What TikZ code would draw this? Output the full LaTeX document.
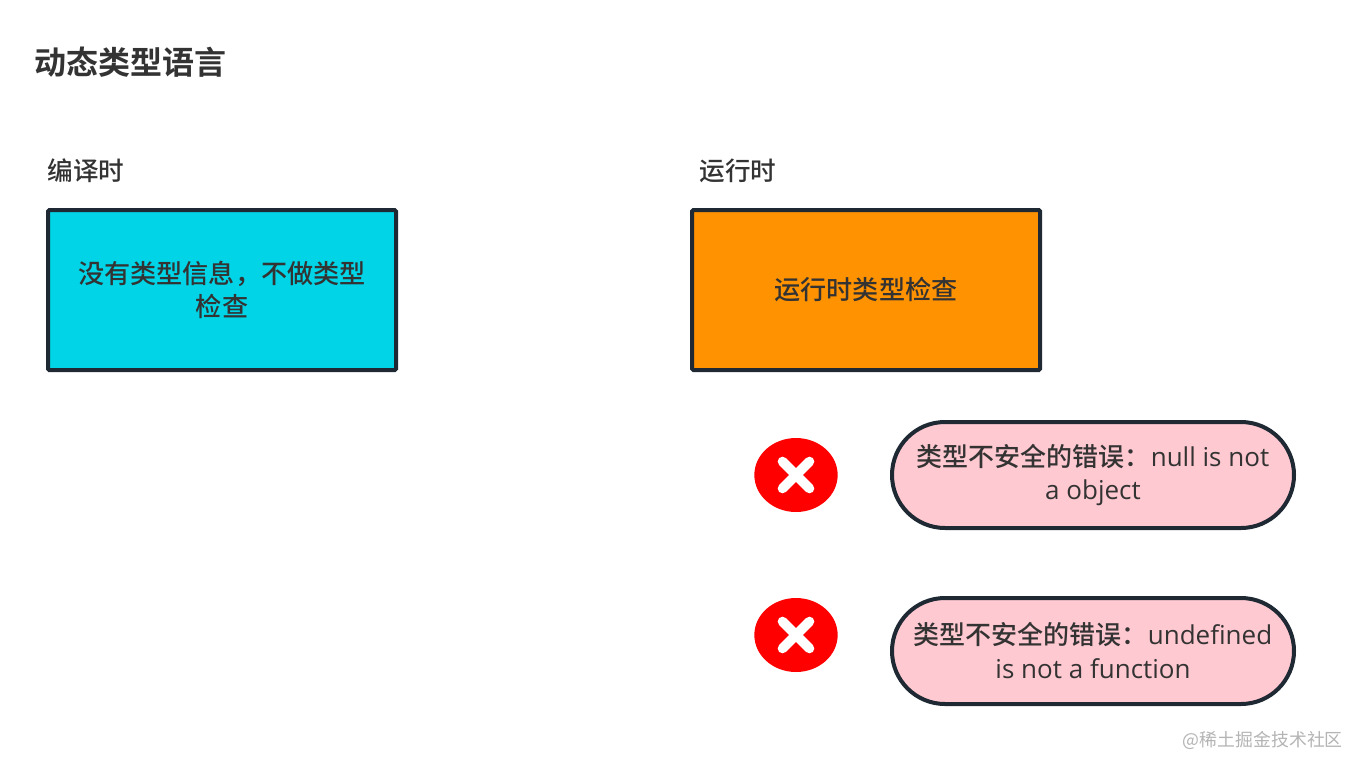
\documentclass[tikz,border=0pt]{standalone}
\usepackage{fontspec}
\setmainfont{Noto Sans CJK SC}
\newfontfamily\cjkm{Noto Sans CJK SC Medium}
\newfontfamily\cjkb{Noto Sans CJK SC Bold}
\newfontfamily\latm{Open Sans}
\definecolor{edgec}{HTML}{1F2933}
\definecolor{textc}{HTML}{333333}
\definecolor{cyanb}{HTML}{00D4E6}
\definecolor{orangeb}{HTML}{FF9200}
\definecolor{pinkb}{HTML}{FFC9D1}
\definecolor{wm}{HTML}{B4B4B4}
\usetikzlibrary{shapes.misc,shapes.geometric}
\tikzset{
  x=0.75pt,y=-0.75pt,
  box/.style={draw=edgec,fill=#1,line width=3pt,rounded corners=1pt,inner sep=0pt,outer sep=0pt,text=textc,align=center,font=\cjkm\fontsize{19.6}{25}\selectfont,minimum width=261pt,minimum height=120pt},
  pill/.style={draw=edgec,fill=pinkb,line width=3pt,rounded rectangle,inner sep=0pt,outer sep=0pt,text=textc,align=center,font=\cjkm\fontsize{19.5}{25.2}\selectfont,minimum width=301.5pt,minimum height=79.5pt},
  lbl/.style={anchor=west,inner sep=0pt,text=textc,font=\cjkm\fontsize{19.2}{24}\selectfont},
  crossc/.style={draw=white,line width=7.2pt,line cap=round},
  redc/.style={fill=red,draw=none,ellipse,minimum width=62.5pt,minimum height=55.5pt,inner sep=0pt}
}
\begin{document}
\begin{tikzpicture}
\useasboundingbox (0,0) rectangle (1364,772);
\fill[white] (0,0) rectangle (1364,772);
\node[lbl,font=\cjkb\fontsize{24}{28}\selectfont] (title) at (34,62) {动态类型语言};
\node[lbl] (l1) at (47.5,170.5) {编译时};
\node[lbl] (l2) at (699.5,170.5) {运行时};
\node[box=cyanb] (b1) at (222,290) {\raisebox{0.75pt}{没有类型信息，不做类型}\\\raisebox{0.75pt}{检查}};
\node[box=orangeb] (b2) at (866,290) {运行时类型检查};
\node[redc] (r1) at (796,475) {};
\draw[crossc] (782.5,461.5) -- (809.5,488.5);
\draw[crossc] (809.5,461.5) -- (782.5,488.5);
\node[redc] (r2) at (796,635) {};
\draw[crossc] (782.5,621.5) -- (809.5,648.5);
\draw[crossc] (809.5,621.5) -- (782.5,648.5);
\node[pill] (p1) at (1093,475) {类型不安全的错误：{\latm null is not}\\{\latm a object}};
\node[pill] (p2) at (1093,651) {\raisebox{0.75pt}{类型不安全的错误：{\latm undefined}}\\\raisebox{1pt}{\latm is not a function}};
\node[anchor=east,inner sep=0pt,text=wm,font=\fontsize{13.4}{18}\selectfont] (w) at (1343,740) {@稀土掘金技术社区};
\end{tikzpicture}
\end{document}
